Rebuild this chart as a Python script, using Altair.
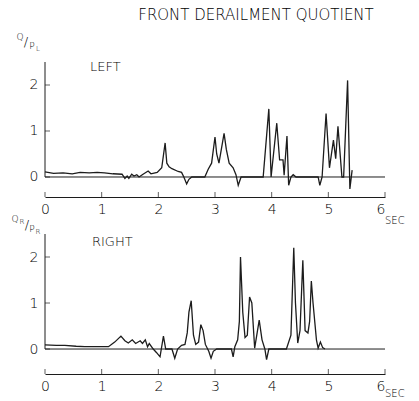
import altair as alt
import pandas as pd

# Time axis (seconds) and quotient axis tick values
sec_ticks = [0, 1, 2, 3, 4, 5, 6]
q_ticks = [0, 1, 2]

# Left wheel: derailment quotient Q/P vs time
left_t = [0.00, 0.15, 0.32, 0.48, 0.62, 0.78, 0.92, 1.05, 1.20, 1.36, 1.41, 1.45,
          1.48, 1.53, 1.57, 1.62, 1.66, 1.73, 1.82, 1.87, 1.98, 2.06, 2.12, 2.15,
          2.19, 2.24, 2.35, 2.41, 2.45, 2.50, 2.54, 2.59, 2.82, 2.88, 2.94, 3.00,
          3.03, 3.07, 3.16, 3.20, 3.25, 3.32, 3.37, 3.41, 3.46, 3.85, 3.95, 3.99,
          4.09, 4.14, 4.20, 4.22, 4.27, 4.30, 4.34, 4.38, 4.43, 4.82, 4.85, 4.89,
          4.96, 5.02, 5.09, 5.13, 5.17, 5.24, 5.27, 5.34, 5.38, 5.42]
left_q = [0.11, 0.08, 0.09, 0.07, 0.10, 0.09, 0.10, 0.09, 0.07, 0.06, -0.03, 0.02,
          -0.03, 0.06, 0.02, 0.05, 0.00, 0.06, 0.13, 0.07, 0.10, 0.20, 0.74, 0.30,
          0.22, 0.18, 0.12, 0.10, 0.00, -0.15, -0.05, 0.00, 0.00, 0.17, 0.30, 0.87,
          0.50, 0.30, 0.95, 0.60, 0.30, 0.20, 0.05, -0.18, 0.00, 0.00, 1.48, 0.00,
          1.17, 0.37, 0.37, 0.04, 0.89, -0.18, 0.00, 0.05, 0.00, 0.00, -0.18, 0.00,
          1.38, 0.20, 0.80, 0.40, 1.10, 0.00, 0.00, 2.10, -0.26, 0.15]

# Right wheel
right_t = [0.00, 0.20, 0.35, 0.55, 0.70, 0.90, 1.12, 1.23, 1.34, 1.41, 1.47, 1.54,
           1.60, 1.68, 1.72, 1.77, 1.81, 1.84, 1.91, 1.97, 2.03, 2.09, 2.13, 2.24,
           2.29, 2.34, 2.41, 2.47, 2.51, 2.54, 2.58, 2.62, 2.66, 2.71, 2.75, 2.79,
           2.83, 2.89, 2.93, 2.97, 3.03, 3.29, 3.32, 3.35, 3.40, 3.43, 3.45, 3.49,
           3.53, 3.57, 3.61, 3.65, 3.70, 3.78, 3.83, 3.88, 3.91, 3.95, 4.26, 4.34,
           4.39, 4.42, 4.46, 4.50, 4.55, 4.59, 4.64, 4.67, 4.70, 4.73, 4.79, 4.82,
           4.86, 4.90, 4.94]
right_q = [0.09, 0.08, 0.08, 0.06, 0.05, 0.05, 0.05, 0.15, 0.28, 0.18, 0.13, 0.20,
           0.12, 0.18, 0.12, 0.20, 0.05, 0.12, 0.00, -0.08, -0.17, 0.28, 0.00, 0.00,
           -0.20, 0.00, 0.08, 0.10, 0.35, 0.80, 1.05, 0.30, 0.10, 0.15, 0.53, 0.40,
           0.10, -0.05, -0.20, -0.05, 0.00, 0.00, -0.17, 0.05, 0.20, 0.60, 2.00, 0.80,
           0.25, 0.30, 1.13, 1.00, 0.02, 0.63, 0.20, 0.00, -0.23, 0.00, 0.00, 0.30,
           2.20, 1.00, 0.13, 0.40, 1.93, 0.40, 0.35, 0.60, 1.48, 1.00, 0.20, 0.02,
           0.15, 0.03, 0.00]

FONT = "DejaVu Sans"
WEIGHT = 300
INK = "#1c1c1c"
TEXT = "#000000"
W = 340
Q_TOP = 2.5


def label(text, x, y, size, align="center"):
    return alt.Chart(pd.DataFrame({"s": [text]})).mark_text(
        font=FONT, fontSize=size, fontWeight=WEIGHT, color=TEXT, align=align,
        baseline="middle"
    ).encode(x=alt.value(x), y=alt.value(y), text="s:N")


def panel(t, q, q_min, height, extra):
    xs = alt.Scale(domain=[0, 6], nice=False, zero=False)
    ys = alt.Scale(domain=[q_min, Q_TOP], nice=False, zero=False)
    x_axis = alt.Axis(values=sec_ticks, format="d", title=None, grid=False,
                      domain=True, domainColor=INK, domainWidth=1.2, ticks=False,
                      labelFont=FONT, labelFontSize=14, labelFontWeight=WEIGHT,
                      labelColor=TEXT, labelPadding=5, labelFlush=False,
                      # the last label sits left of its tick to leave room for "SEC"
                      labelAlign={"condition": {"test": "datum.value == 6",
                                                "value": "right"},
                                  "value": "center"})
    y_axis = alt.Axis(values=q_ticks, format="d", title=None, grid=False,
                      domain=False, ticks=False, labelFont=FONT, labelFontSize=14,
                      labelFontWeight=WEIGHT, labelColor=TEXT, labelPadding=7)
    X = alt.X("t:Q", scale=xs, axis=x_axis)
    Y = alt.Y("q:Q", scale=ys, axis=y_axis)

    curve = alt.Chart(pd.DataFrame({"t": t, "q": q})).mark_line(
        color=INK, strokeWidth=1.3
    ).encode(x=X, y=Y)

    # zero reference line across the whole time range
    base = alt.Chart(pd.DataFrame({"t": [0], "t2": [6], "q": [0]})).mark_rule(
        color=INK, strokeWidth=1
    ).encode(x=X, x2="t2:Q", y=Y)

    # vertical quotient axis line, from 0 upwards
    y_line = alt.Chart(pd.DataFrame({"t": [0], "q": [0], "q2": [Q_TOP]})).mark_rule(
        color=INK, strokeWidth=1
    ).encode(x=X, y=Y, y2="q2:Q")

    # inward-pointing tick marks
    y_ticks = alt.Chart(pd.DataFrame({"q": q_ticks})).mark_tick(
        orient="horizontal", size=5, thickness=1, xOffset=2.5, color=INK
    ).encode(x=alt.value(0), y=Y)

    x_ticks = alt.Chart(pd.DataFrame({"t": sec_ticks})).mark_tick(
        orient="vertical", size=5, thickness=1, yOffset=-2.5, color=INK
    ).encode(x=X, y=alt.value(height))

    return alt.layer(base, y_line, y_ticks, x_ticks, curve, *extra).properties(
        width=W, height=height
    )


top_extra = [
    label("FRONT DERAILMENT QUOTIENT", 211, -47, 15),
    label("Q", -25, -25, 9),
    label("/", -19, -20, 13),
    label("P", -13, -16, 9),
    label("L", -7, -13, 7),
    label("LEFT", 45, 5, 13, align="left"),
    label("SEC", 340, 159, 10, align="left"),
]
bottom_extra = [
    label("Q", -30, -15, 9),
    label("R", -23, -12, 7),
    label("/", -18, -9, 13),
    label("P", -13, -5, 9),
    label("R", -7, -2, 7),
    label("RIGHT", 47, 8, 13, align="left"),
    label("SEC", 340, 160, 10, align="left"),
]

top = panel(left_t, left_q, -0.435, 135, top_extra)
bottom = panel(right_t, right_q, -0.543, 140, bottom_extra)

chart = alt.vconcat(top, bottom, spacing=37, bounds="flush").properties(
    padding={"left": 11, "top": 8, "right": 0, "bottom": 0}
).configure_view(stroke=None)

chart.save("out.html", embed_options={"renderer": "svg", "actions": False})
